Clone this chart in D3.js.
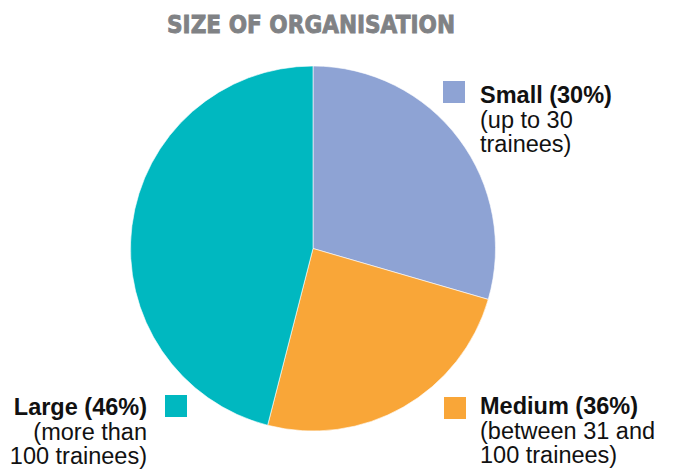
<!DOCTYPE html>
<html>
<head>
<meta charset="utf-8">
<script src="https://cdn.jsdelivr.net/npm/d3@7"></script>
<style>
  body { margin: 0; background: #fff; }
  svg { display: block; }
</style>
</head>
<body>
<svg id="chart" width="677" height="472"></svg>
<script>
// slice sizes as drawn in the picture, the labels carry the printed percentages
var categories = ["Small", "Medium", "Large"];
var sliceValues = [29.5, 24.5, 46];
var labelTitles = ["Small (30%)", "Medium (36%)", "Large (46%)"];
var labelLines = [
    ["(up to 30", "trainees)"],
    ["(between 31 and", "100 trainees)"],
    ["(more than", "100 trainees)"]
];
var colors = ["#8ea3d4", "#f9a638", "#00b8c0"];

var svg = d3.select("#chart");
var cx = 313, cy = 248.5, radius = 182.5;

svg.append("text")
    .attr("x", 167).attr("y", 33)
    .attr("textLength", 288)
    .attr("lengthAdjust", "spacingAndGlyphs")
    .style("font-family", "'DejaVu Sans', sans-serif")
    .style("font-weight", "bold")
    .style("font-size", "25px")
    .style("fill", "#808285")
    .style("stroke", "#808285")
    .style("stroke-width", 0.9)
    .text("SIZE OF ORGANISATION");

var pie = d3.pie().sort(null).value(function(d) { return d; });
var arc = d3.arc().innerRadius(0).outerRadius(radius);

svg.append("g")
    .attr("transform", "translate(" + cx + "," + cy + ")")
    .selectAll("path")
    .data(pie(sliceValues))
    .enter().append("path")
    .attr("d", arc)
    .attr("fill", function(d, i) { return colors[i]; })
    .attr("stroke", "#fff")
    .attr("stroke-width", 0.6);

//legend positions: square box, text anchor and first baseline
var legendPos = [
    {bx: 443, by: 81, tx: 480, ty: 103, anchor: "start"},
    {bx: 444, by: 397, tx: 480, ty: 414, anchor: "start"},
    {bx: 165, by: 395, tx: 147, ty: 415, anchor: "end"}
];

var legend = svg.append("g")
    .style("font-family", "'Liberation Sans', Arial, sans-serif")
    .style("font-size", "23.5px")
    .style("fill", "#111");

categories.forEach(function(c, i) {
    var p = legendPos[i];
    legend.append("rect")
        .attr("x", p.bx).attr("y", p.by)
        .attr("width", 22).attr("height", 22)
        .attr("fill", colors[i]);
    var t = legend.append("text")
        .attr("text-anchor", p.anchor);
    t.append("tspan")
        .attr("x", p.tx).attr("y", p.ty)
        .style("font-weight", "bold")
        .text(labelTitles[i]);
    labelLines[i].forEach(function(line, j) {
        t.append("tspan")
            .attr("x", p.tx).attr("y", p.ty + 24.5 * (j + 1))
            .text(line);
    });
});
</script>
</body>
</html>
